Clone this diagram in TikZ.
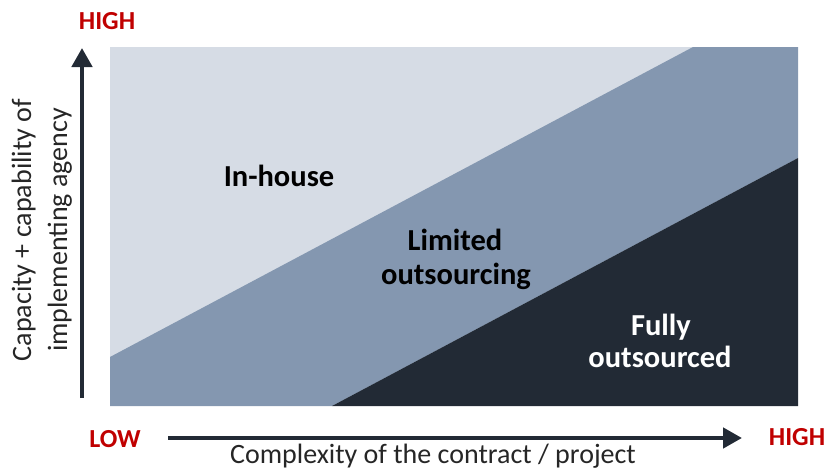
\documentclass[tikz,border=0pt]{standalone}
\usepackage{fontspec}
\setmainfont{Carlito}
\usetikzlibrary{arrows.meta}
\definecolor{lightb}{HTML}{D6DCE5}
\definecolor{midb}{HTML}{8497B0}
\definecolor{darkb}{HTML}{222A35}
\definecolor{redt}{HTML}{C00000}
\begin{document}
\begin{tikzpicture}[x=1pt,y=-1pt,
  redlab/.style={text=redt,font=\bfseries\fontsize{26}{30}\selectfont,anchor=base,inner sep=0pt},
  zonelab/.style={text=black,font=\bfseries\fontsize{30.5}{34}\selectfont,anchor=base,inner sep=0pt},
  axlab/.style={text=black!85,font=\fontsize{28}{34}\selectfont,anchor=base,inner sep=0pt},
  axarrow/.style={darkb,line width=4.5pt,-{Triangle[length=19pt,width=20pt]}}]
\useasboundingbox (0,0) rectangle (829,472);
\fill[lightb] (110,47) rectangle (798,406);
\fill[midb] (110,357) -- (693,47) -- (798,47) -- (798,158) -- (332,406) -- (110,406) -- cycle;
\fill[darkb] (332,406) -- (798,158) -- (798,406) -- cycle;
\coordinate (ybot) at (82,398);
\coordinate (ytop) at (82,48);
\coordinate (xl) at (168,438);
\coordinate (xr) at (742,438);
\draw[axarrow] (ybot) -- (ytop);
\draw[axarrow] (xl) -- (xr);
\node[redlab] (hightop) at (107,29) {HIGH};
\node[redlab] (low) at (115,447) {LOW};
\node[redlab] (highright) at (797,445) {HIGH};
\node[axlab] (xlabel) at (433,463) {Complexity of the contract / project};
\node[axlab,rotate=90] (ylabel1) at (31,230) {Capacity + capability of};
\node[axlab,rotate=90] (ylabel2) at (67,230) {implementing agency};
\node[zonelab] (inhouse) at (279,186) {In-house};
\node[zonelab] (limited1) at (455,250) {Limited};
\node[zonelab] (limited2) at (456,284) {outsourcing};
\node[zonelab,text=white] (fully1) at (661,335) {Fully};
\node[zonelab,text=white] (fully2) at (660,367) {outsourced};
\end{tikzpicture}
\end{document}
